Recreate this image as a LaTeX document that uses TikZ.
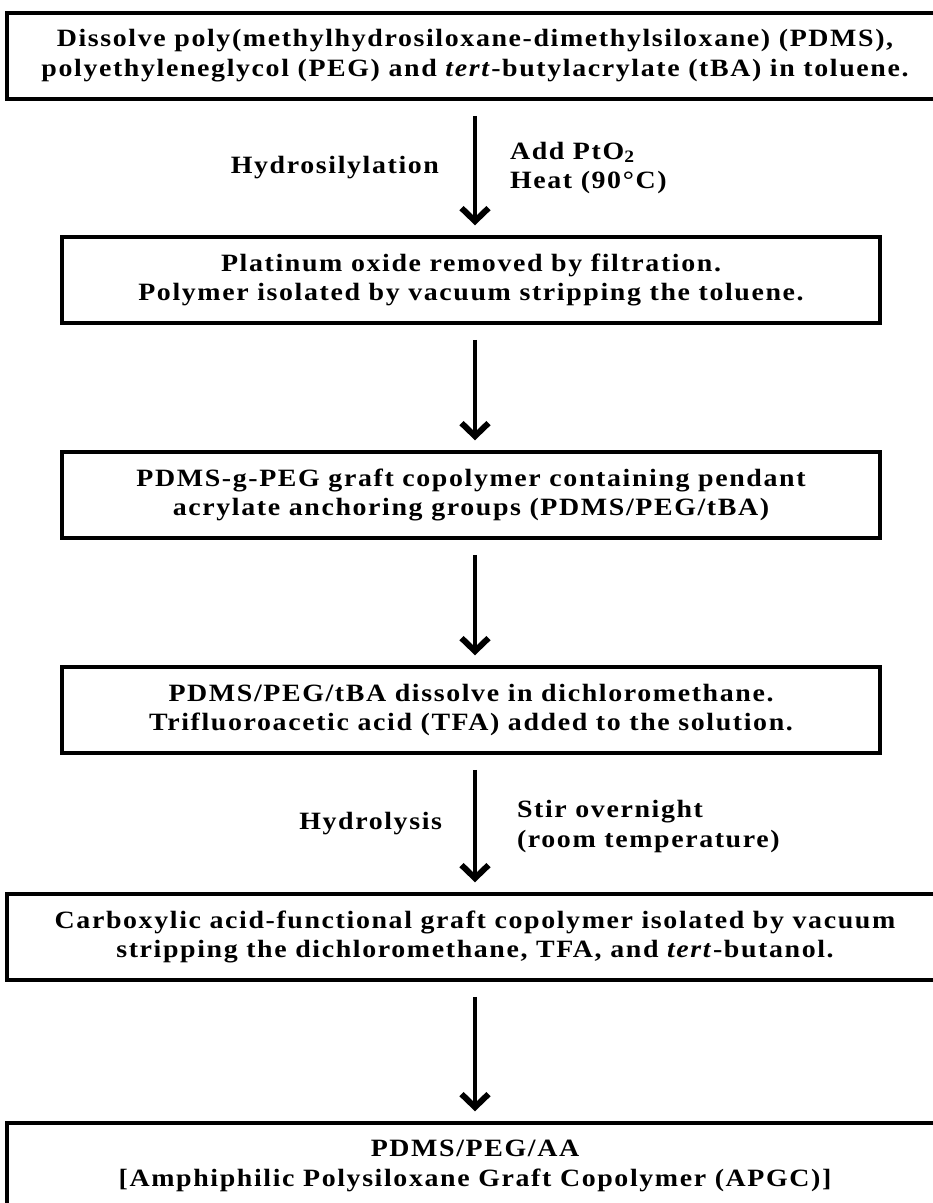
\documentclass[tikz,border=0pt]{standalone}
\usepackage{fontspec}
\setmainfont{Liberation Serif}[FakeStretch=1.12, LetterSpace=6.5]
\usetikzlibrary{arrows.meta, positioning}

\tikzset{
  stepbox/.style={draw, line width=3.5bp, align=center, minimum height=86bp, inner sep=4bp,
    font=\fontsize{25}{30}\selectfont\bfseries},
  widebox/.style={stepbox, minimum width=936bp},
  narrowbox/.style={stepbox, minimum width=818bp},
  flow/.style={line width=4bp, -{Straight Barb[length=13bp, width=27bp, line width=2bp 1]},
    shorten <=15bp, shorten >=10bp},
  cond/.style={font=\fontsize{25}{30}\selectfont\bfseries, align=left, inner sep=0pt}
}

\begin{document}
\begin{tikzpicture}[x=1bp, y=-1bp]
    \useasboundingbox (0,0) rectangle (933,1203);
    \clip (0,0) rectangle (933,1203);

    % Process steps
    \node[widebox] (dissolve) at (475,56) {Dissolve poly(methylhydrosiloxane-dimethylsiloxane) (PDMS),\\
      polyethyleneglycol (PEG) and \textit{tert}-butylacrylate (tBA) in toluene.};
    \node[narrowbox] (filter) at (471,280) {Platinum oxide removed by filtration.\\
      Polymer isolated by vacuum stripping the toluene.};
    \node[narrowbox] (graft) at (471,495) {PDMS-g-PEG graft copolymer containing pendant\\
      acrylate anchoring groups (PDMS/PEG/tBA)};
    \node[narrowbox] (acid) at (471,710) {PDMS/PEG/tBA dissolve in dichloromethane.\\
      Trifluoroacetic acid (TFA) added to the solution.};
    \node[widebox] (strip) at (475,937) {Carboxylic acid-functional graft copolymer isolated by vacuum\\
      stripping the dichloromethane, TFA, and \textit{tert}-butanol.};
    \node[widebox] (apgc) at (475,1166) {PDMS/PEG/AA\\
      {[Amphiphilic Polysiloxane Graft Copolymer (APGC)]}};

    % Arrows with reaction conditions
    \draw[flow] (dissolve.south) -- (dissolve.south |- filter.north)
      node[cond, midway, left=34bp] (hydrosil) {Hydrosilylation}
      node[cond, midway, right=33bp] (addpt) {Add PtO\textsubscript{2}\\Heat (90°C)};
    \draw[flow] (dissolve.south |- filter.south) -- (dissolve.south |- graft.north);
    \draw[flow] (dissolve.south |- graft.south) -- (dissolve.south |- acid.north);
    \draw[flow] (dissolve.south |- acid.south) -- (strip.north)
      node[cond, midway, left=31bp] (hydrol) {Hydrolysis}
      node[cond, midway, right=40bp, yshift=-3bp] (stir) {Stir overnight\\(room temperature)};
    \draw[flow] (strip.south) -- (apgc.north);
\end{tikzpicture}
\end{document}
